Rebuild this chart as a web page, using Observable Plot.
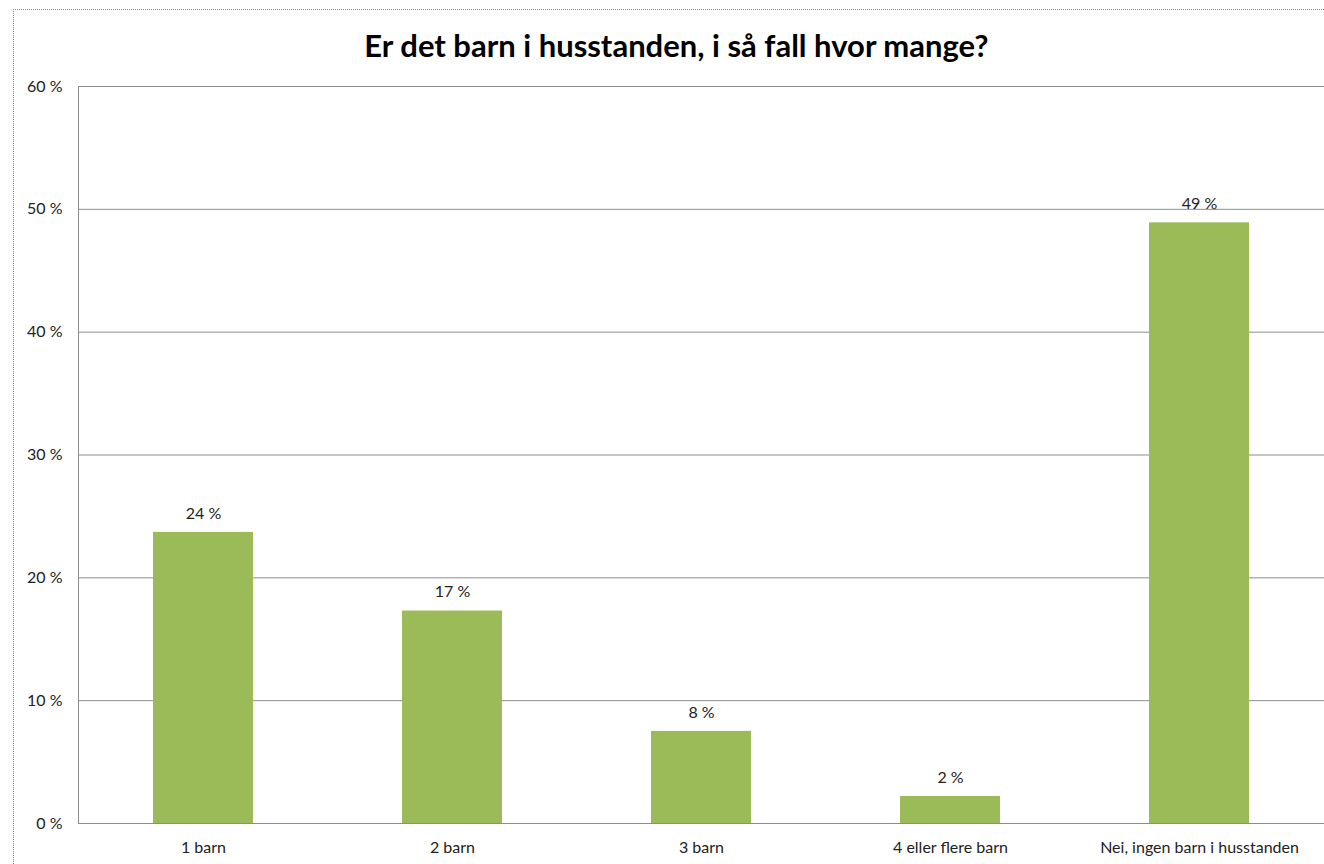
<!DOCTYPE html>
<html>
<head>
<meta charset="utf-8">
<script src="https://cdn.jsdelivr.net/npm/d3@7"></script>
<script src="https://cdn.jsdelivr.net/npm/@observablehq/plot@0.6"></script>
<style>
  html, body { margin: 0; padding: 0; background: #fff; overflow: hidden; width: 1324px; height: 864px; }
  #frame { position: absolute; left: 13px; top: 9px; width: 1311px; height: 855px; box-sizing: border-box;
           border-left: 1px dotted #8a8a8a; border-top: 1px dotted #8a8a8a; }
  #title { position: absolute; left: 0; top: 26px; width: 1353px; text-align: center;
           font-family: Lato, "Open Sans", sans-serif; font-weight: bold; font-size: 31px; color: #000; }
  #chart { position: absolute; left: 0; top: 70px; width: 1324px; height: 794px; }
  #chart svg { max-width: none; }
</style>
</head>
<body>
<div id="frame"></div>
<div id="title">Er det barn i husstanden, i så fall hvor mange?</div>
<div id="chart"></div>
<script>
const categories = ["1 barn", "2 barn", "3 barn", "4 eller flere barn", "Nei, ingen barn i husstanden"];
const values = [0.237, 0.173, 0.075, 0.022, 0.489];
const valueLabels = ["24 %", "17 %", "8 %", "2 %", "49 %"];
const yTicks = [0, 0.1, 0.2, 0.3, 0.4, 0.5, 0.6];

const data = categories.map((c, i) => ({category: c, value: values[i], label: valueLabels[i]}));

// left axis line drawn from the plot's own dimensions and y scale
function leftAxisLine(...args) {
  const dims = args.find(a => a && typeof a === "object" && "marginLeft" in a && "height" in a);
  const scales = args.find(a => a && typeof a === "object" && typeof a.y === "function");
  const ns = "http://www.w3.org/2000/svg";
  const line = document.createElementNS(ns, "line");
  const x = dims.marginLeft + 0.5;
  line.setAttribute("x1", x); line.setAttribute("x2", x);
  line.setAttribute("y1", scales.y(0.6)); line.setAttribute("y2", scales.y(0));
  line.setAttribute("stroke", "#8c8c8c");
  return line;
}

const chart = Plot.plot({
  width: 1324,
  height: 794,
  marginTop: 16,
  marginBottom: 41,
  marginLeft: 78,
  marginRight: 0,
  style: {fontFamily: "Lato, 'Open Sans', sans-serif", fontSize: "16px", color: "#222"},
  x: {domain: categories, paddingInner: 0.6, paddingOuter: 0.3, label: null},
  y: {domain: [0, 0.6], label: null},
  marks: [
    Plot.gridY(yTicks, {stroke: "#8c8c8c", strokeOpacity: 1}),
    leftAxisLine,
    Plot.barY(data, {x: "category", y: "value", fill: "#9BBB59"}),
    Plot.ruleY([0], {stroke: "#8c8c8c"}),
    Plot.axisY(yTicks, {tickSize: 0, tickPadding: 16, tickFormat: d => Math.round(d * 100) + " %", fontSize: 16}),
    Plot.axisX({tickSize: 0, tickPadding: 18, fontSize: 16}),
    Plot.text(data, {x: "category", y: "value", text: "label", dy: -19, fontSize: 16, fill: "#222"})
  ]
});
document.getElementById("chart").appendChild(chart);
</script>
</body>
</html>
